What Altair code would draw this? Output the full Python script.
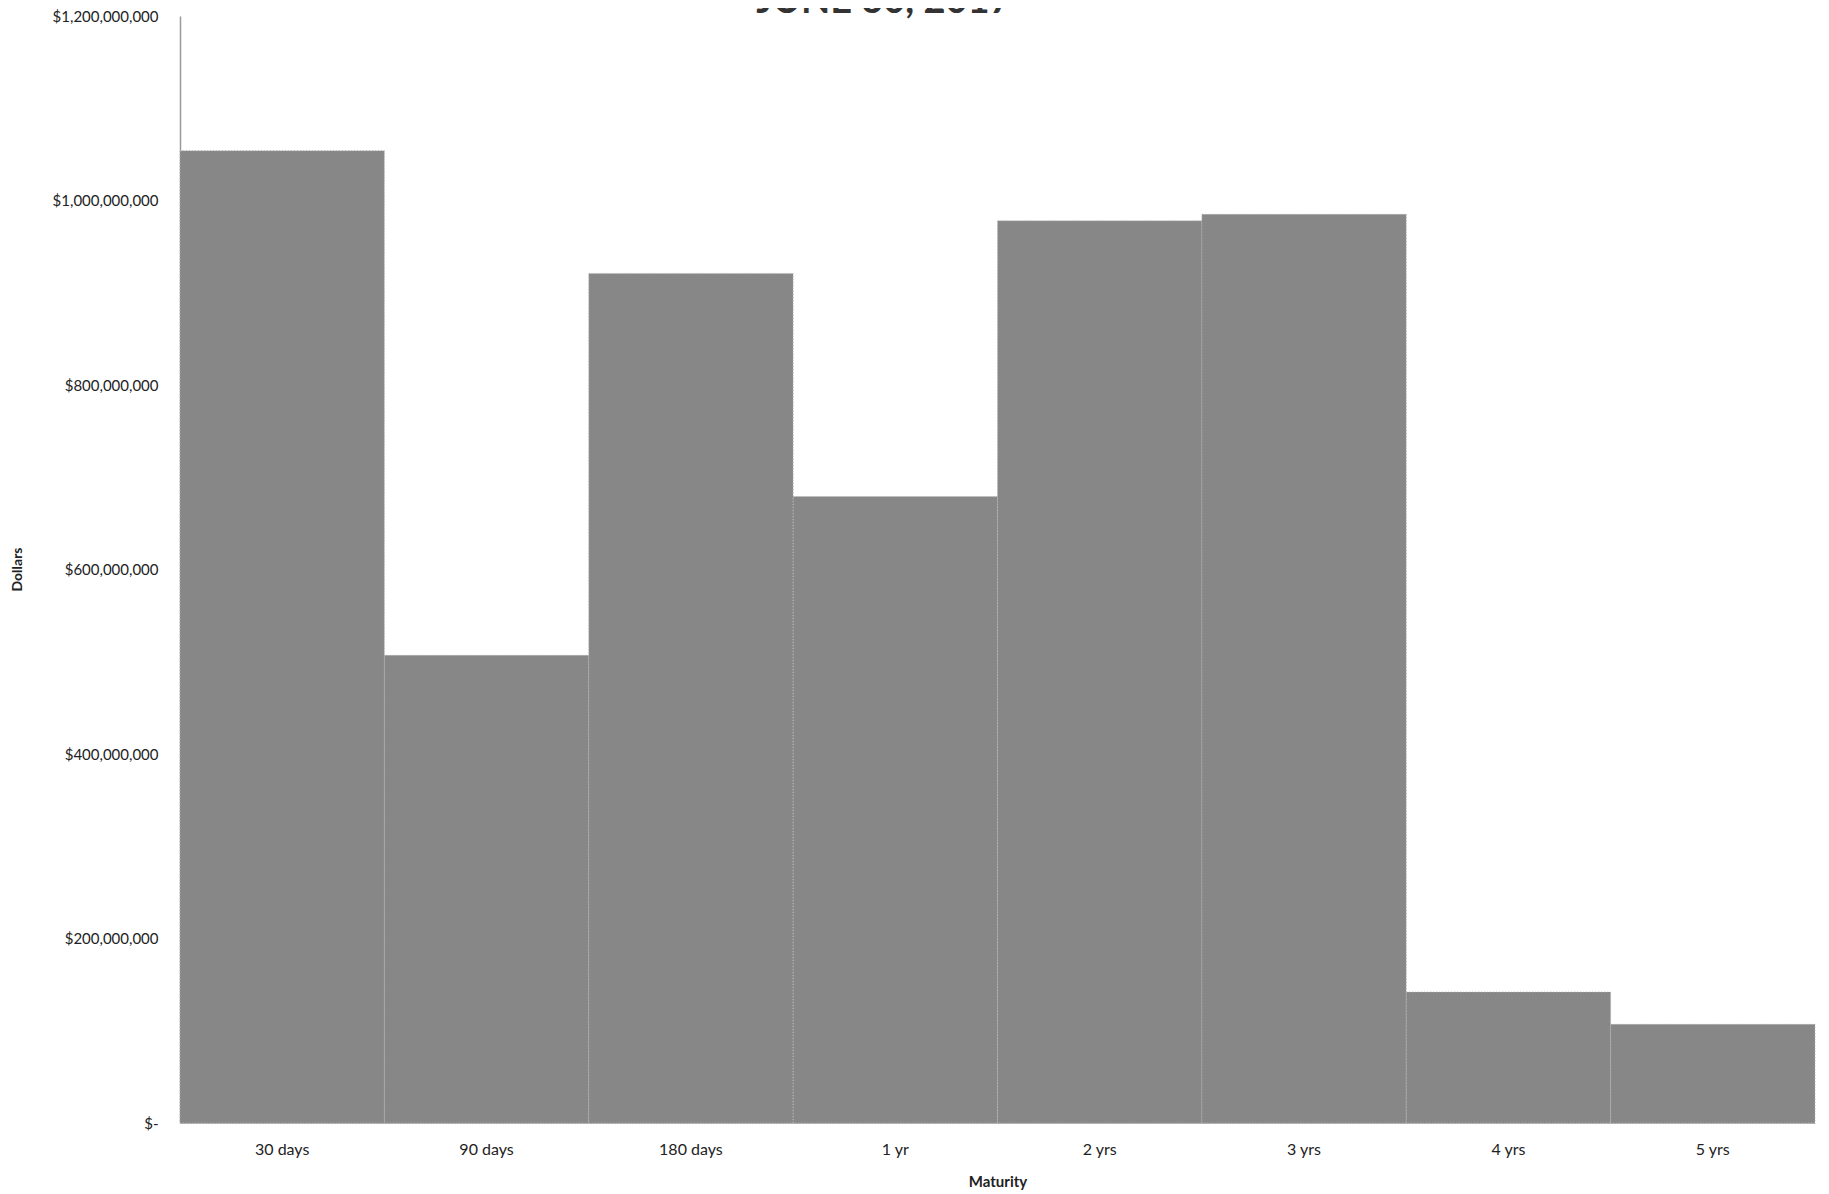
import altair as alt
import pandas as pd

maturities = ["30 days", "90 days", "180 days", "1 yr", "2 yrs", "3 yrs", "4 yrs", "5 yrs"]
dollars = [1054000000, 507000000, 921000000, 679000000, 978000000, 985000000, 142000000, 107000000]
y_ticks = [0, 200000000, 400000000, 600000000, 800000000, 1000000000, 1200000000]
title_text = ["JUNE 30, 2017"]

df = pd.DataFrame({"Maturity": maturities, "Dollars": dollars})
tdf = pd.DataFrame({"t": title_text})

bars = alt.Chart(df).mark_bar(
    color="#878787", stroke="#b5b5b5", strokeWidth=1, strokeDash=[1, 2]
).encode(
    x=alt.X(
        "Maturity:N",
        sort=maturities,
        scale=alt.Scale(paddingInner=0, paddingOuter=0),
        axis=alt.Axis(
            title="Maturity",
            labelAngle=0,
            labelFont="Lato",
            labelFontSize=16,
            labelColor="#222222",
            labelPadding=18,
            ticks=False,
            domainColor="#b0b0b0",
            titleFont="Lato",
            titleFontSize=15,
            titleFontWeight="bold",
            titleColor="#222222",
            titleY=58,
            titleBaseline="middle",
        ),
    ),
    y=alt.Y(
        "Dollars:Q",
        scale=alt.Scale(domain=[0, 1200000000], nice=False),
        axis=alt.Axis(
            title="Dollars",
            values=y_ticks,
            labelExpr="datum.value == 0 ? '$-\u00a0\u00a0\u00a0\u00a0' : '$' + format(datum.value, ',')",
            labelFont="Lato",
            labelFontSize=15,
            labelColor="#222222",
            labelPadding=22,
            ticks=False,
            grid=False,
            domainColor="#9a9a9a",
            domainWidth=1.5,
            titleFont="Lato",
            titleFontSize=14,
            titleFontWeight="bold",
            titleColor="#222222",
            titleAngle=270,
            titleX=-163,
            titleY=553,
            titleAlign="center",
            titleBaseline="middle",
        ),
    ),
)

title = alt.Chart(tdf).mark_text(
    font="Lato", fontSize=38, fontWeight="bold", color="#333333",
    align="center", baseline="alphabetic"
).encode(
    text="t:N",
    x=alt.value(704),
    y=alt.value(-3),
)

chart = alt.layer(bars, title).properties(
    width=1635,
    height=1107,
    padding={"left": 172, "top": 8, "right": 6, "bottom": 70},
    autosize=alt.AutoSizeParams(type="none"),
    background="white",
).configure_view(stroke=None)

chart.save("out.html", embed_options={"renderer": "svg", "actions": False})
